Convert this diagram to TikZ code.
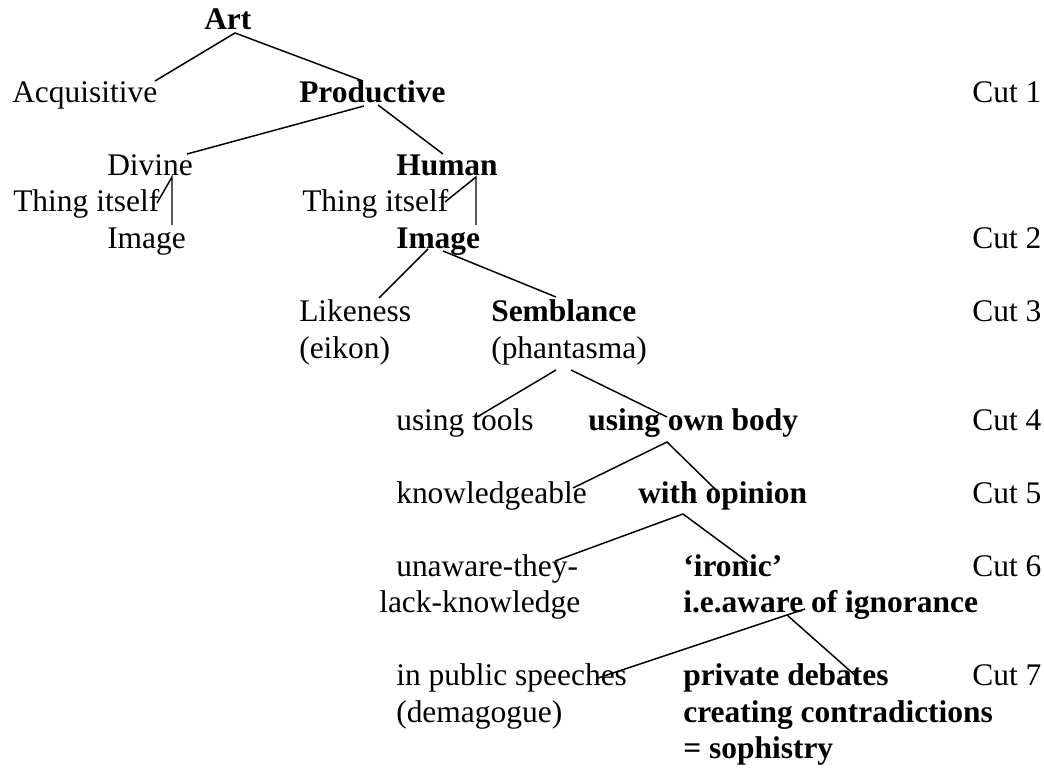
\documentclass[tikz,border=0pt]{standalone}
\usepackage{fontspec}
\setmainfont{Liberation Serif}
\begin{document}
\begin{tikzpicture}[x=0.75pt,y=-0.75pt,
  txt/.style={anchor=base west,inner sep=0pt,font=\fontsize{23.6}{28}\selectfont},
  btxt/.style={txt,font=\fontsize{23.6}{28}\selectfont\bfseries},
  link/.style={line width=1.1pt}]
\useasboundingbox (0,0) rectangle (1044,773);
% nodes
\node[btxt] (art) at (204,30) {Art};
\node[txt] (acq) at (12,103) {Acquisitive};
\node[btxt] (prod) at (299,103) {Productive};
\node[txt] (cut1) at (972,103) {Cut 1};
\node[txt] (divine) at (107,176) {Divine};
\node[btxt] (human) at (396,176) {Human};
\node[txt] (thingA) at (13,212) {Thing itself};
\node[txt] (thingB) at (302,212) {Thing itself};
\node[txt] (imageA) at (107,248) {Image};
\node[btxt] (imageB) at (396,248) {Image};
\node[txt] (cut2) at (972,248) {Cut 2};
\node[txt] (likeness) at (299,321) {Likeness};
\node[txt] (eikon) at (299,358) {(eikon)};
\node[btxt] (semblance) at (491,321) {Semblance};
\node[txt] (phantasma) at (491,358) {(phantasma)};
\node[txt] (cut3) at (972,321) {Cut 3};
\node[txt] (tools) at (396,430) {using tools};
\node[btxt] (body) at (588,430) {using own body};
\node[txt] (cut4) at (972,430) {Cut 4};
\node[txt] (knowl) at (396,503) {knowledgeable};
\node[btxt] (opinion) at (638,503) {with opinion};
\node[txt] (cut5) at (972,503) {Cut 5};
\node[txt] (unaware) at (396,576) {unaware-they-};
\node[txt] (lack) at (379,612) {lack-knowledge};
\node[btxt] (ironic) at (683,576) {‘ironic’};
\node[btxt] (aware) at (683,612) {i.e.aware of ignorance};
\node[txt] (cut6) at (972,576) {Cut 6};
\node[txt] (public) at (396,685) {in public speeches};
\node[txt] (demagogue) at (396,722) {(demagogue)};
\node[btxt] (private) at (683,685) {private debates};
\node[btxt] (creating) at (683,722) {creating contradictions};
\node[btxt] (sophistry) at (683,758) {= sophistry};
\node[txt] (cut7) at (972,685) {Cut 7};
% connector end points
\coordinate (artS) at (235,33);
\coordinate (acqN) at (155,81);
\coordinate (prodN) at (363,81);
\coordinate (prodSL) at (364,106);
\coordinate (prodSR) at (378,105);
\coordinate (divineN) at (187,154);
\coordinate (humanN) at (443,154);
\coordinate (divineS) at (172,177);
\coordinate (thingAE) at (157,203);
\coordinate (imageAN) at (172,225);
\coordinate (humanS) at (476,177);
\coordinate (thingBE) at (445,202);
\coordinate (imageBN) at (476,225);
\coordinate (imageBSL) at (428,249);
\coordinate (imageBSR) at (443,251);
\coordinate (likenessN) at (379,298);
\coordinate (semblanceN) at (556,297);
\coordinate (phantSL) at (556,370);
\coordinate (phantSR) at (571,370);
\coordinate (toolsN) at (477,417);
\coordinate (bodyN) at (667,417);
\coordinate (bodyS) at (667,442);
\coordinate (knowlN) at (573,488);
\coordinate (opinionN) at (715,489);
\coordinate (opinionS) at (683,514);
\coordinate (unawareN) at (555,561);
\coordinate (ironicN) at (748,562);
\coordinate (awareSR) at (805,609);
\coordinate (awareSL) at (787,615);
\coordinate (publicN) at (598,678);
\coordinate (privateN) at (857,677);
% connectors
\draw[link] (acqN) -- (artS) -- (prodN);
\draw[link] (prodSL) -- (divineN);
\draw[link] (prodSR) -- (humanN);
\draw[link] (thingAE) -- (divineS) -- (imageAN);
\draw[link] (thingBE) -- (humanS) -- (imageBN);
\draw[link] (imageBSL) -- (likenessN);
\draw[link] (imageBSR) -- (semblanceN);
\draw[link] (phantSL) -- (toolsN);
\draw[link] (phantSR) -- (bodyN);
\draw[link] (knowlN) -- (bodyS) -- (opinionN);
\draw[link] (unawareN) -- (opinionS) -- (ironicN);
\draw[link] (awareSR) -- (publicN);
\draw[link] (awareSL) -- (privateN);
\end{tikzpicture}
\end{document}
